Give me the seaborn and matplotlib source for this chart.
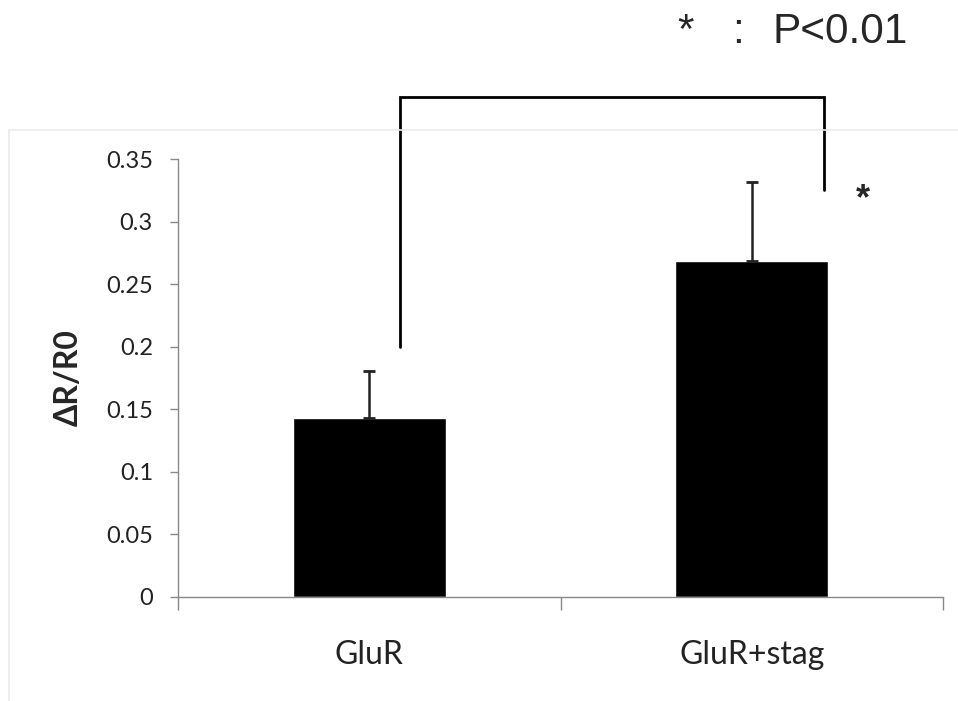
import matplotlib
matplotlib.use("Agg")
import matplotlib.pyplot as plt
import seaborn as sns
import pandas as pd
from matplotlib.patches import Rectangle

categories = ["GluR", "GluR+stag"]
means = [0.1427, 0.2686]
errors = [0.038, 0.063]
y_ticks = [0, 0.05, 0.1, 0.15, 0.2, 0.25, 0.3, 0.35]
y_tick_labels = ["0", "0.05", "0.1", "0.15", "0.2", "0.25", "0.3", "0.35"]

df = pd.DataFrame({"group": categories, "value": means})

sns.set_style("white")
plt.rcParams["font.family"] = ["Lato", "DejaVu Sans"]

fig = plt.figure(figsize=(9.58, 7.01), dpi=100)
ax = fig.add_axes([178/958, 1-596.7/701, (943-178)/958, (596.7-159)/701])

# faint chart border (only top and left visible in the crop)
fig.patches.append(Rectangle((9/958, -0.1), 1.2, 0.1 + (701-130)/701,
                             transform=fig.transFigure, fill=False,
                             edgecolor="#ebebeb", linewidth=1.2))

sns.barplot(data=df, x="group", y="value", color="black", width=0.4,
            errorbar=None, ax=ax, saturation=1)
ax.errorbar(range(len(categories)), means, yerr=[[0]*len(errors), errors],
            fmt="none", ecolor="#222222", elinewidth=1.8, capsize=4.5, capthick=2)

ax.set_xlim(-0.5, 1.5)
ax.set_ylim(0, 0.35)
ax.set_yticks(y_ticks)
ax.set_yticklabels(y_tick_labels, fontsize=17, color="#222222")
ax.set_xticks([-0.5, 0.5, 1.5], minor=False)
ax.set_xticklabels([])
ax.set_xticks([0, 1], minor=True)
ax.set_xticklabels(categories, minor=True, fontsize=23, color="#222222")
ax.tick_params(axis="x", which="major", bottom=True, direction="out", length=9,
               width=1, color="#888888")
ax.tick_params(axis="x", which="minor", bottom=True, length=0, pad=31)
ax.tick_params(axis="y", left=True, direction="out", length=6, width=1,
               color="#888888", pad=12)
ax.set_xlabel("")
ax.set_ylabel("ΔR/R0", fontsize=23, fontweight="bold", labelpad=17)
for s in ["top", "right"]:
    ax.spines[s].set_visible(False)
for s in ["left", "bottom"]:
    ax.spines[s].set_color("#888888")
    ax.spines[s].set_linewidth(1.0)

# significance bracket
ax.plot([0.08, 0.08, 1.19, 1.19], [0.2, 0.3998, 0.3998, 0.325],
        color="black", linewidth=2, clip_on=False, solid_joinstyle="miter")
ax.text(1.29, 0.3175, "*", fontsize=26, fontweight="bold", ha="center", va="center",
        family=["Liberation Sans", "DejaVu Sans"])

fig.text(686/958, 1-43/701, "*", fontsize=30.5, ha="center", va="baseline",
         family=["Liberation Sans", "DejaVu Sans"])
fig.text(738/958, 1-43/701, ":", fontsize=30.5, ha="center", va="baseline",
         family=["Liberation Sans", "DejaVu Sans"])
fig.text(772/958, 1-43/701, "P<0.01", fontsize=30.5, ha="left", va="baseline",
         family=["Liberation Sans", "DejaVu Sans"])

fig.savefig("out.png", dpi=100)
